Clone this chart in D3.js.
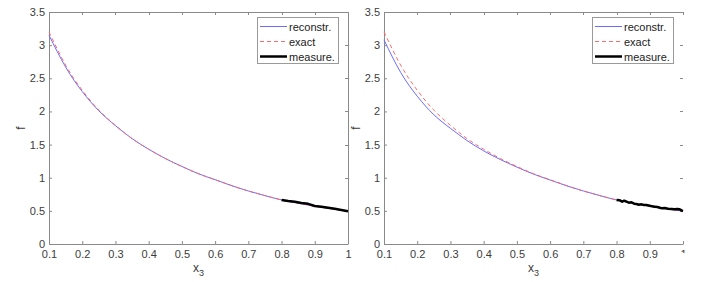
<!DOCTYPE html>
<html>
<head>
<meta charset="utf-8">
<script src="https://cdn.jsdelivr.net/npm/d3@7"></script>
<style>
  body { margin: 0; background: #fff; }
  svg { display: block; font-family: "Liberation Sans", Arial, sans-serif; }
</style>
</head>
<body>
<svg id="chart" width="702" height="282"></svg>
<script>
// grid of x3 values for the smooth curves
var xGrid = [0.10, 0.15, 0.20, 0.25, 0.30, 0.35, 0.40, 0.45, 0.50, 0.55,
             0.60, 0.65, 0.70, 0.75, 0.80, 0.85, 0.90, 0.95, 1.00];

// exact f (same in both panels)
var exactF = [3.20, 2.70, 2.32, 2.02, 1.79, 1.59, 1.43, 1.29, 1.17, 1.06,
              0.97, 0.88, 0.80, 0.73, 0.665, 0.615, 0.57, 0.53, 0.495];

// reconstructions
var reconLeft = [3.15, 2.67, 2.30, 2.01, 1.785, 1.59, 1.43, 1.29, 1.17, 1.06,
                 0.97, 0.88, 0.80, 0.73, 0.665, 0.615, 0.57, 0.53, 0.495];
var reconRight = [3.08, 2.59, 2.23, 1.95, 1.745, 1.56, 1.405, 1.275, 1.16, 1.055,
                  0.965, 0.878, 0.80, 0.73, 0.665, 0.615, 0.57, 0.53, 0.495];

// measured data on [0.8, 1]
var measXLeft = [0.80, 0.82, 0.84, 0.86, 0.88, 0.90, 0.92, 0.94, 0.96, 0.98, 1.00];
var measYLeft = [0.665, 0.648, 0.636, 0.619, 0.606, 0.574, 0.561, 0.548, 0.533, 0.514, 0.494];

var measXRight = [0.800, 0.810, 0.817, 0.823, 0.830, 0.837, 0.845, 0.853, 0.860,
                  0.867, 0.875, 0.883, 0.890, 0.900, 0.907, 0.915, 0.923, 0.930,
                  0.937, 0.945, 0.955, 0.965, 0.975, 0.983, 0.990, 0.997, 1.000];
var measYRight = [0.664, 0.659, 0.639, 0.654, 0.639, 0.624, 0.629, 0.608, 0.603,
                  0.593, 0.598, 0.588, 0.588, 0.578, 0.568, 0.563, 0.558, 0.548,
                  0.538, 0.543, 0.533, 0.528, 0.523, 0.528, 0.523, 0.503, 0.498];

var xTicks = [0.1, 0.2, 0.3, 0.4, 0.5, 0.6, 0.7, 0.8, 0.9, 1];
var yTicks = [0, 0.5, 1, 1.5, 2, 2.5, 3, 3.5];
var legendLabels = ["reconstr.", "exact", "measure."];

var svg = d3.select("#chart");
var axisColor = "#8a8a8a";
var textColor = "#3c3c3c";
var plotW = 299, plotH = 232, plotTop = 12;

function drawPanel(left, recon, measX, measY, isRight) {
  var g = svg.append("g").attr("transform", "translate(" + left + "," + plotTop + ")");
  var x = d3.scaleLinear().domain([0.1, 1]).range([0, plotW]);
  var y = d3.scaleLinear().domain([0, 3.5]).range([plotH, 0]);

  // box edges (right plot has no visible right edge)
  g.append("line").attr("x1", 0).attr("x2", plotW).attr("y1", 0.5).attr("y2", 0.5)
    .attr("stroke", axisColor);
  if (!isRight) {
    g.append("line").attr("x1", plotW + 0.5).attr("x2", plotW + 0.5).attr("y1", 0).attr("y2", plotH)
      .attr("stroke", axisColor);
  }

  // top and right ticks
  g.selectAll(".ttick").data(xTicks).enter().append("line")
    .attr("x1", d => Math.round(x(d)) + 0.5).attr("x2", d => Math.round(x(d)) + 0.5)
    .attr("y1", 0).attr("y2", 3).attr("stroke", axisColor);
  g.selectAll(".rtick").data(yTicks).enter().append("line")
    .attr("x1", plotW - 3).attr("x2", plotW)
    .attr("y1", d => Math.round(y(d)) + 0.5).attr("y2", d => Math.round(y(d)) + 0.5)
    .attr("stroke", axisColor);

  var xAxis = g.append("g").attr("transform", "translate(0," + plotH + ")")
    .call(d3.axisBottom(x).tickValues(xTicks).tickFormat(d => String(d))
      .tickSizeInner(-3).tickSizeOuter(0).tickPadding(6));
  var yAxis = g.append("g")
    .call(d3.axisLeft(y).tickValues(yTicks).tickFormat(d => String(d))
      .tickSizeInner(-3).tickSizeOuter(0).tickPadding(4));

  [xAxis, yAxis].forEach(function (a) {
    a.select(".domain").attr("stroke", axisColor);
    a.selectAll(".tick line").attr("stroke", axisColor);
    a.selectAll(".tick text").attr("fill", textColor).style("font-size", "11px")
      .style("font-family", "'Liberation Sans', Arial, sans-serif");
  });

  if (isRight) {
    // the last x label is cut off in the reference
    var clipId = "clipLast";
    svg.append("clipPath").attr("id", clipId).append("rect")
      .attr("x", -10).attr("y", 0).attr("width", 20).attr("height", 9);
    xAxis.selectAll(".tick").filter(d => d === 1).select("text")
      .attr("clip-path", "url(#" + clipId + ")");
  }

  // labels
  var xl = g.append("text").attr("x", plotW / 2).attr("y", plotH + 28)
    .attr("text-anchor", "middle").attr("fill", textColor).style("font-size", "12px");
  xl.append("tspan").text("x");
  xl.append("tspan").attr("dy", 4).style("font-size", "9px").text("3");

  g.append("text").attr("transform", "translate(-24," + (plotH / 2) + ") rotate(-90)")
    .attr("text-anchor", "middle").attr("fill", textColor).style("font-size", "12px").text("f");

  var line = d3.line().x(d => x(d[0])).y(d => y(d[1])).curve(d3.curveNatural);

  g.append("path").datum(xGrid.map((v, i) => [v, recon[i]]))
    .attr("d", line).attr("fill", "none").attr("stroke", "#6b6bff").attr("stroke-width", 1);
  g.append("path").datum(xGrid.map((v, i) => [v, exactF[i]]))
    .attr("d", line).attr("fill", "none").attr("stroke", "#ff6b6b").attr("stroke-width", 1)
    .attr("stroke-dasharray", "4,3");
  g.append("path").datum(measX.map((v, i) => [v, measY[i]]))
    .attr("d", d3.line().x(d => x(d[0])).y(d => y(d[1])))
    .attr("fill", "none").attr("stroke", "#000").attr("stroke-width", 2.5)
    .attr("stroke-linejoin", "round");

  // legend
  var lg = g.append("g").attr("transform", "translate(" + (plotW - 90.5) + "," + 5.5 + ")");
  lg.append("rect").attr("width", 81).attr("height", 46)
    .attr("fill", "#fff").attr("stroke", "#9a9a9a");
  var styles = [
    { c: "#6b6bff", w: 1, dash: null },
    { c: "#ff6b6b", w: 1, dash: "4,3" },
    { c: "#000", w: 2.5, dash: null }
  ];
  legendLabels.forEach(function (lab, i) {
    var yy = 9 + i * 15;
    lg.append("line").attr("x1", 2.5).attr("x2", 29.5).attr("y1", yy).attr("y2", yy)
      .attr("stroke", styles[i].c).attr("stroke-width", styles[i].w)
      .attr("stroke-dasharray", styles[i].dash);
    lg.append("text").attr("x", 31.5).attr("y", yy + 4).attr("fill", "#222")
      .style("font-size", "11px").text(lab);
  });
}

drawPanel(49, reconLeft, measXLeft, measYLeft, false);
drawPanel(384, reconRight, measXRight, measYRight, true);
</script>
</body>
</html>
